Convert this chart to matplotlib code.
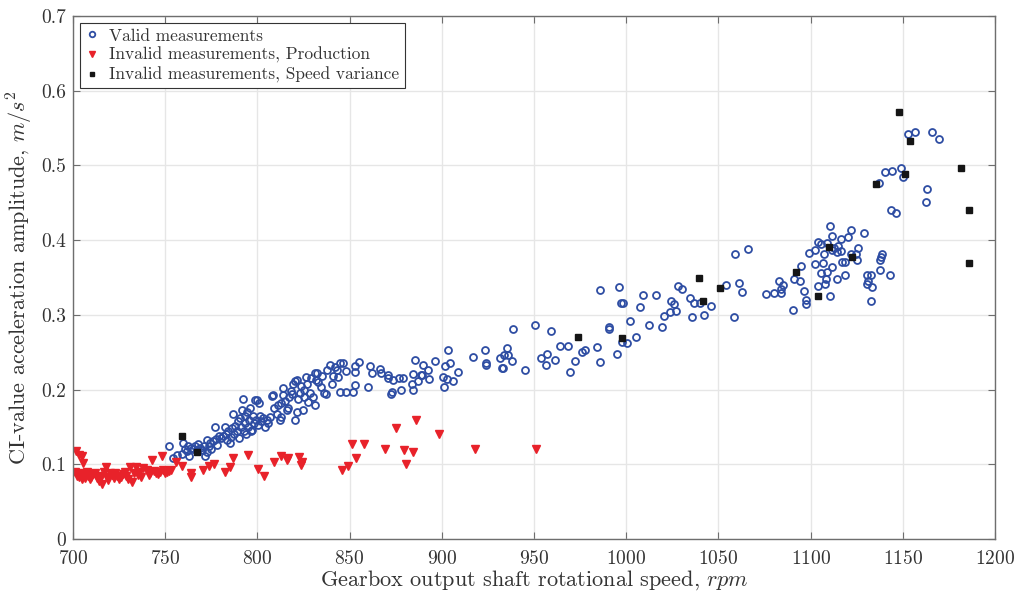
import numpy as np
import matplotlib
matplotlib.use('Agg')
import matplotlib.pyplot as plt

plt.rcParams['font.family'] = 'serif'
plt.rcParams['font.serif'] = ['cmr10', 'DejaVu Serif']
plt.rcParams['mathtext.fontset'] = 'cm'
plt.rcParams['axes.formatter.use_mathtext'] = True

# valid measurements (rpm, amplitude)
valid_x = [752.2, 754, 756.6, 758.9, 759.8, 760.7, 762, 762.5, 763, 764, 765, 766, 767, 768, 769, 770,
           771, 771.6, 772.5, 772.5, 773.5, 774.3, 775, 776, 777, 777.5, 778, 779, 780, 781.5, 782.4,
           783, 783.5, 784, 785.1, 785.5, 786, 786.9, 787.5, 788, 789.1, 789.5, 790, 790.5, 791, 791.5,
           792, 792.5, 793, 793.5, 794, 794.5, 795, 795.5, 796, 796.5, 797, 797.5, 798, 798.7, 799, 799.6,
           800.5, 801, 801.4, 802, 803, 804, 805, 806, 807, 807.7, 808.2, 809, 810.4, 811, 812, 812.6,
           813, 813.7, 813.7, 815, 815.9, 816.5, 817, 818, 819, 819.1, 820.4, 820.4, 821.3, 821.3, 822,
           823, 823.5, 824.6, 825, 825.5, 826.4, 827, 827.6, 828.5, 829, 830, 831.2, 831.2, 831.5, 832.1,
           833, 834.3, 835, 836.1, 837, 838, 839.4, 840.3, 841, 842, 843.3, 843.8, 844.8, 844.8, 846.6,
           848, 848.3, 853, 853, 853, 852.1, 855.1, 860.9, 862.3, 860.2, 866.5, 867, 870.6, 871, 873.7,
           872.8, 872.5, 876.8, 879.1, 877.7, 884.5, 884.2, 885.7, 883.6, 887, 888.5, 889.4, 890, 892.7,
           893, 896.3, 900.8, 901.2, 901.7, 902.6, 903.5, 904.5, 905.8, 908.8, 916.9, 923.4, 923.8, 924.2,
           931.6, 932.4, 933.2, 933.7, 935.2, 936, 938.3, 938.4, 945, 950.4, 953.8, 957, 956.5, 959, 961.2,
           964.1, 968.6, 969.5, 972.2, 976.2, 977.7, 984, 985.8, 985.8, 990.4, 990.4, 995.2, 995.9, 997,
           997.5, 998.5, 1000.4, 1002, 1005.5, 1007.3, 1008.9, 1012.5, 1016.3, 1019.2, 1020.7, 1023.7,
           1024.1, 1026.1, 1026.8, 1027.9, 1030.4, 1034.6, 1035.8, 1036.8, 1040, 1042, 1046, 1053.9, 1058.6,
           1059, 1061, 1062.8, 1065.9, 1075.6, 1080.2, 1083, 1083.8, 1084.1, 1084.8, 1090.5, 1091.2, 1094.1,
           1094.7, 1096.4, 1097.5, 1097.5, 1099.3, 1102.4, 1102.6, 1103.8, 1104.2, 1105.4, 1105.8, 1106.5,
           1107.3, 1107.8, 1108.4, 1108.7, 1108.9, 1110.3, 1110.3, 1111.6, 1111.7, 1111.7, 1112.5, 1114.1,
           1114.1, 1115, 1116.3, 1116.6, 1116.8, 1118.6, 1118.6, 1120, 1122, 1122, 1124.5, 1124.9, 1125.9,
           1129, 1130.3, 1130.3, 1131.2, 1132.6, 1132.6, 1133.4, 1137.2, 1137.4, 1137.4, 1138, 1138.5,
           1140.3, 1143.2, 1143.6, 1144.3, 1146.1, 1149.2, 1150.3, 1152.8, 1156.4, 1162.6, 1163.3, 1166,
           1169.5]
valid_y = [0.124, 0.109, 0.112, 0.114, 0.128, 0.121, 0.118, 0.124, 0.111, 0.122, 0.120, 0.125, 0.119,
           0.127, 0.122, 0.119, 0.124, 0.111, 0.117, 0.132, 0.125, 0.128, 0.121, 0.131, 0.150, 0.134,
           0.126, 0.138, 0.135, 0.138, 0.150, 0.141, 0.133, 0.145, 0.128, 0.136, 0.148, 0.168, 0.140,
           0.152, 0.144, 0.158, 0.135, 0.162, 0.150, 0.173, 0.187, 0.145, 0.155, 0.165, 0.140, 0.170,
           0.150, 0.160, 0.175, 0.145, 0.146, 0.165, 0.155, 0.186, 0.160, 0.186, 0.153, 0.182, 0.165,
           0.158, 0.162, 0.150, 0.160, 0.155, 0.163, 0.191, 0.193, 0.175, 0.168, 0.180, 0.159, 0.182,
           0.164, 0.193, 0.202, 0.185, 0.173, 0.176, 0.190, 0.198, 0.194, 0.208, 0.159, 0.211, 0.170,
           0.213, 0.188, 0.196, 0.205, 0.173, 0.190, 0.200, 0.217, 0.208, 0.184, 0.195, 0.215, 0.190,
           0.179, 0.222, 0.213, 0.222, 0.210, 0.204, 0.218, 0.195, 0.194, 0.226, 0.233, 0.208, 0.218,
           0.230, 0.226, 0.217, 0.235, 0.197, 0.235, 0.225, 0.197, 0.231, 0.224, 0.206, 0.197, 0.237,
           0.232, 0.222, 0.203, 0.228, 0.222, 0.220, 0.216, 0.213, 0.197, 0.194, 0.216, 0.216, 0.199,
           0.221, 0.199, 0.240, 0.208, 0.212, 0.219, 0.219, 0.233, 0.226, 0.214, 0.238, 0.217, 0.204,
           0.231, 0.214, 0.253, 0.236, 0.212, 0.223, 0.244, 0.253, 0.235, 0.233, 0.242, 0.229, 0.229,
           0.246, 0.256, 0.246, 0.239, 0.281, 0.226, 0.286, 0.243, 0.248, 0.233, 0.278, 0.240, 0.258,
           0.258, 0.224, 0.239, 0.250, 0.253, 0.257, 0.237, 0.334, 0.284, 0.281, 0.248, 0.338, 0.316,
           0.264, 0.316, 0.262, 0.292, 0.270, 0.311, 0.326, 0.287, 0.327, 0.284, 0.298, 0.304, 0.318,
           0.314, 0.305, 0.339, 0.335, 0.322, 0.297, 0.316, 0.316, 0.300, 0.312, 0.340, 0.297, 0.381,
           0.343, 0.331, 0.388, 0.328, 0.329, 0.346, 0.335, 0.330, 0.340, 0.307, 0.348, 0.345, 0.365,
           0.332, 0.320, 0.314, 0.383, 0.368, 0.387, 0.397, 0.339, 0.395, 0.356, 0.369, 0.382, 0.342,
           0.348, 0.357, 0.396, 0.419, 0.325, 0.406, 0.364, 0.387, 0.390, 0.348, 0.384, 0.392, 0.386,
           0.401, 0.371, 0.371, 0.353, 0.404, 0.413, 0.382, 0.382, 0.374, 0.389, 0.409, 0.353, 0.341,
           0.346, 0.353, 0.318, 0.337, 0.476, 0.360, 0.373, 0.377, 0.382, 0.491, 0.353, 0.440, 0.493,
           0.437, 0.497, 0.485, 0.542, 0.545, 0.451, 0.468, 0.545, 0.535]

# invalid, production
prod_x = [701.5, 703, 705, 705.6, 701, 702, 703, 704, 705, 706, 706.5, 707.5, 708, 709, 710, 711, 712,
          713, 714, 715, 716, 717, 718, 718.5, 719, 720, 721, 722, 723, 724, 725, 726, 727, 728, 729,
          730, 731, 732, 733, 734, 735, 736, 737, 738, 740, 741, 742, 742.7, 744, 745, 746, 747, 748,
          749, 750, 751, 752, 753, 756, 759, 764, 764, 770.7, 773.9, 776.6, 782.4, 785, 786.6, 795,
          800.5, 803.6, 809, 812.6, 815.8, 816.7, 822.6, 824, 823.6, 845.7, 849.3, 851.1, 853.4, 857.8,
          869.2, 875.2, 879.5, 880.6, 884.1, 886, 898.5, 918, 950.9]
prod_y = [0.118, 0.112, 0.111, 0.102, 0.090, 0.085, 0.083, 0.088, 0.080, 0.086, 0.082, 0.090, 0.085,
          0.080, 0.083, 0.087, 0.088, 0.082, 0.078, 0.084, 0.074, 0.090, 0.097, 0.083, 0.079, 0.088,
          0.086, 0.082, 0.089, 0.085, 0.080, 0.083, 0.087, 0.090, 0.084, 0.080, 0.097, 0.077, 0.088,
          0.096, 0.086, 0.090, 0.083, 0.095, 0.092, 0.086, 0.088, 0.106, 0.091, 0.089, 0.087, 0.090,
          0.111, 0.092, 0.088, 0.090, 0.091, 0.092, 0.103, 0.098, 0.089, 0.083, 0.092, 0.098, 0.101,
          0.090, 0.096, 0.108, 0.113, 0.094, 0.084, 0.103, 0.111, 0.106, 0.109, 0.110, 0.103, 0.099,
          0.093, 0.098, 0.127, 0.108, 0.127, 0.121, 0.149, 0.119, 0.100, 0.116, 0.160, 0.141, 0.120,
          0.120]

# invalid, speed variance
speed_x = [759, 767.4, 973.9, 997.9, 1039.5, 1041.8, 1050.9, 1092.2, 1103.8, 1110, 1122.4, 1135.6,
           1148, 1151.4, 1153.7, 1181.6, 1185.9, 1186]
speed_y = [0.138, 0.117, 0.270, 0.269, 0.349, 0.319, 0.336, 0.358, 0.325, 0.391, 0.378, 0.475,
           0.571, 0.488, 0.533, 0.496, 0.440, 0.370]

xticks = np.arange(700, 1201, 50)
yticks = [0, 0.1, 0.2, 0.3, 0.4, 0.5, 0.6, 0.7]
ytick_labels = ['0', '0.1', '0.2', '0.3', '0.4', '0.5', '0.6', '0.7']

txt = '#333333'
fig = plt.figure(figsize=(10.28, 5.95), dpi=100)
ax = fig.add_axes([0.071, 0.094, 0.897, 0.879])

ax.plot(valid_x, valid_y, 'o', ls='none', ms=5, mfc='none', mec='#2E4DA3', mew=1.3,
        label='Valid measurements')
ax.plot(prod_x, prod_y, 'v', ls='none', ms=6, color='#E8222A', label='Invalid measurements, Production')
ax.plot(speed_x, speed_y, 's', ls='none', ms=4, color='#151515', label='Invalid measurements, Speed variance')

ax.set_xlim(700, 1200)
ax.set_ylim(0, 0.7)
ax.set_xticks(xticks)
ax.set_yticks(yticks)
ax.set_yticklabels(ytick_labels)
ax.grid(True, color='#e6e6e6', lw=1)
ax.set_axisbelow(True)
ax.tick_params(direction='in', length=5, width=0.8, colors='#6e6e6e', labelcolor=txt,
               labelsize=14, top=True, right=True)
ax.tick_params(axis='x', pad=8)
ax.tick_params(axis='y', pad=5)
for s in ax.spines.values():
    s.set_color('#6e6e6e')
    s.set_linewidth(1.0)

ax.set_xlabel('Gearbox output shaft rotational speed, $rpm$', fontsize=16, color=txt, labelpad=0)
ax.set_ylabel('CI-value acceleration amplitude, $m/s^2$', fontsize=16, color=txt, labelpad=4)

leg = ax.legend(loc='upper left', fontsize=12.5, frameon=True, fancybox=False, framealpha=1,
                edgecolor='#333333', handlelength=0.8, handletextpad=0.6, borderpad=0.3,
                labelspacing=0.2, borderaxespad=0.4, markerscale=0.8)
leg.get_frame().set_linewidth(0.8)
for t in leg.get_texts():
    t.set_color(txt)

fig.savefig('out.png', dpi=100)
